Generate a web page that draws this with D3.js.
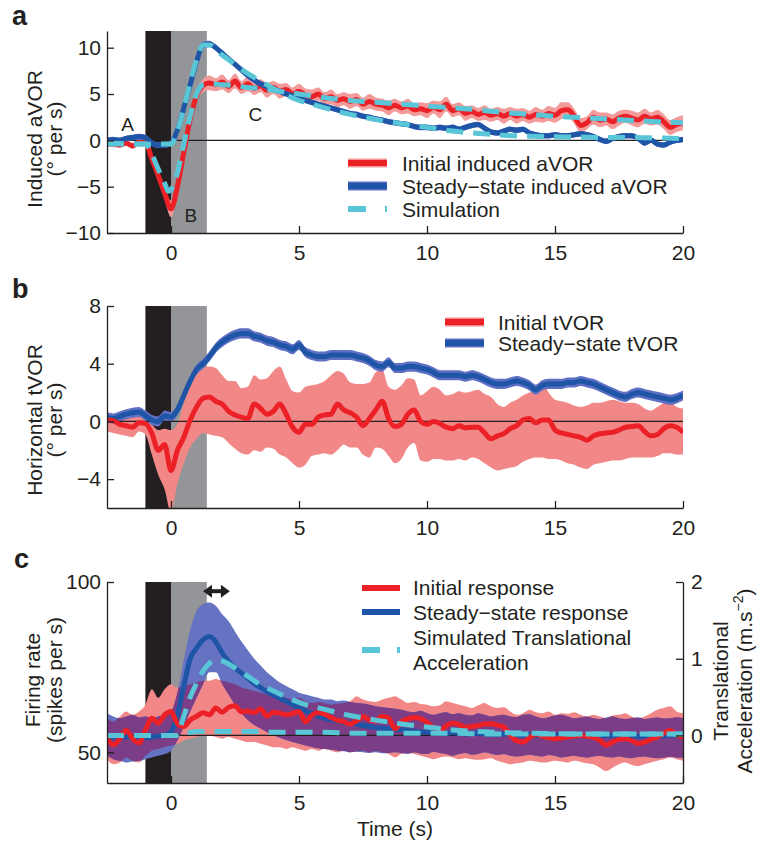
<!DOCTYPE html>
<html><head><meta charset="utf-8">
<script src="https://cdn.jsdelivr.net/npm/d3@7"></script>
<style>body{margin:0;background:#fff}svg{display:block}</style>
</head><body><svg id="chart" width="757" height="846"></svg>
<script>
// ---------------- DATA ----------------
const xDomain = [-2.5, 20];
const xTicks = [0, 5, 10, 15, 20];
const sampleStart = -2.5, sampleStep = 0.25, sampleCount = 91;   // recording grid (s)
const stimBlack = [-1, 0];
const stimGray = [0, 1.4];

// Panel a : induced aVOR (deg/s)
const aTicks = [-10, -5, 0, 5, 10];
const redA = [-0.4,-0.4,-0.5,-0.3,-0.6,-0.2,-0.2,-2.0,-3.8,-5.7,
  -7.4,-5.0,-1.3,2.3,4.8,5.9,6.2,6.0,6.3,5.8,
  6.4,5.7,6.1,5.6,5.9,5.4,5.7,5.3,5.5,5.0,
  5.3,4.9,4.7,5.0,4.5,4.7,4.3,4.5,4.2,4.4,
  3.9,4.2,3.9,3.8,3.5,3.8,3.5,3.7,3.3,3.4,
  3.2,3.6,3.3,3.9,3.2,3.4,2.9,3.1,2.8,3.0,
  2.7,2.9,2.6,2.9,2.6,2.8,2.5,2.8,2.6,2.9,
  2.7,3.2,3.3,2.6,1.6,1.9,2.5,2.2,2.3,2.0,
  2.4,2.6,2.4,2.2,2.6,2.3,2.5,2.0,1.4,1.7,
  1.9];
const semRedA = [0.3,0.3,0.3,0.3,0.3,0.3,0.3,0.5,0.6,0.7,
  0.9,0.8,0.7,0.6,0.6,0.7,0.8,0.7,0.8,0.7,
  0.8,0.7,0.8,0.7,0.7,0.8,0.7,0.8,0.7,0.7,
  0.8,0.7,0.8,0.7,0.7,0.8,0.7,0.7,0.8,0.7,
  0.7,0.8,0.7,0.7,0.8,0.7,0.7,0.8,0.7,0.7,
  0.8,0.7,0.9,0.8,0.7,0.7,0.8,0.7,0.7,0.8,
  0.7,0.7,0.8,0.7,0.8,0.7,0.7,0.8,0.7,0.8,
  0.8,0.9,0.8,0.8,0.8,0.7,0.8,0.8,0.7,0.8,
  0.8,0.7,0.8,0.8,0.8,0.7,0.8,0.8,0.8,0.8,
  0.8];
const blueA = [0.0,0.1,0.0,0.2,0.3,0.4,0.3,-0.3,-0.5,-0.5,
  -0.3,1.1,3.5,6.0,8.5,10.3,10.4,10.0,9.4,8.8,
  8.2,7.6,7.0,6.5,6.1,5.8,5.5,5.3,5.0,4.8,
  4.6,4.3,4.1,3.9,3.7,3.5,3.3,3.1,2.9,2.8,
  2.6,2.5,2.3,2.2,2.0,1.9,1.8,1.7,1.5,1.4,
  1.4,1.3,1.4,1.3,1.4,1.2,1.4,1.6,1.7,1.3,
  0.9,0.8,1.0,1.2,1.1,1.2,0.8,0.6,0.5,0.5,
  0.6,0.5,0.5,0.6,0.7,0.6,0.4,0.1,-0.1,0.2,
  0.4,0.5,0.5,0.2,-0.3,0.0,-0.4,-0.5,-0.2,0.0,
  0.1];
const semBlueA = [0.3,0.3,0.3,0.3,0.3,0.3,0.3,0.3,0.3,0.3,
  0.3,0.3,0.3,0.3,0.35,0.35,0.35,0.3,0.3,0.3,
  0.3,0.3,0.3,0.3,0.3,0.3,0.3,0.3,0.3,0.3,
  0.3,0.3,0.3,0.3,0.3,0.3,0.3,0.3,0.3,0.3,
  0.3,0.3,0.3,0.3,0.3,0.3,0.3,0.3,0.3,0.3,
  0.3,0.3,0.3,0.3,0.3,0.3,0.3,0.3,0.3,0.3,
  0.3,0.3,0.3,0.3,0.3,0.3,0.3,0.3,0.3,0.3,
  0.3,0.3,0.3,0.3,0.3,0.3,0.3,0.3,0.3,0.3,
  0.3,0.3,0.3,0.3,0.3,0.3,0.3,0.3,0.3,0.3,
  0.3];
const simATime = [-2.5,-1,-0.75,-0.5,-0.25,-0.1,0,0.25,0.5,0.75,1,1.25,1.5,2,2.5,3,3.5,4,4.5,5,5.5,6,7,8,9,10,11,12,13,14,15,16,17,18,19,20];
const simAInitial = [-0.4,-0.4,-1.5,-3.1,-4.6,-5.5,-5.3,-3.5,-0.4,2.6,5.0,6.0,6.1,6.0,5.9,5.7,5.6,5.4,5.2,5.0,4.8,4.6,4.3,4.1,3.9,3.7,3.5,3.3,3.0,2.8,2.6,2.45,2.3,2.15,2.0,1.9];
const simASteady = [-0.3,-0.4,-0.4,-0.4,-0.4,-0.4,-0.4,1.0,3.5,6.2,8.7,10.3,10.3,9.2,8.2,7.2,6.4,5.6,4.9,4.3,3.9,3.5,2.8,2.25,1.8,1.4,1.0,0.75,0.55,0.45,0.4,0.35,0.3,0.3,0.25,0.2];
const labelsA = [{text:"A", t:-1.7, v:1.0}, {text:"B", t:0.78, v:-8.85}, {text:"C", t:3.3, v:2.1}];

// Panel b : horizontal tVOR (deg/s)
const bTicks = [-4, 0, 4, 8];
const redB = [0.1,0.05,-0.2,-0.3,-0.4,-0.1,-0.15,-0.8,-2.0,-1.6,
  -3.4,-2.0,-1.1,0.1,1.0,1.6,1.7,1.4,1.2,0.7,
  0.45,0.3,0.2,1.2,0.9,0.5,0.7,1.2,0.5,-0.4,
  -0.75,-0.2,-0.2,0.3,0.45,0.5,1.2,0.8,0.6,0.3,
  -0.3,0.2,0.8,1.4,0.2,-0.35,-0.2,0.5,0.8,0.0,
  -0.2,0.0,-0.15,-0.4,-0.5,-0.3,-0.45,-0.4,-0.4,-0.8,
  -1.2,-1.0,-0.85,-0.5,-0.3,0.1,0.2,-0.1,0.1,0.1,
  -0.6,-0.8,-0.9,-1.0,-1.1,-1.3,-1.0,-0.85,-0.8,-0.75,
  -0.6,-0.4,-0.35,-0.3,-0.7,-1.0,-0.9,-0.5,-0.3,-0.4,
  -0.75];
const redBHigh = [0.6,0.5,0.4,0.3,0.3,0.6,0.4,-0.2,-0.6,-0.5,
  -0.6,-0.2,1.3,2.5,3.3,3.7,3.8,3.7,3.2,2.8,
  2.8,2.3,2.4,3.2,2.9,3.0,3.5,3.8,2.9,2.1,
  2.0,2.4,2.5,2.6,2.8,3.2,3.5,3.3,2.7,2.6,
  2.6,2.7,3.4,3.6,2.4,2.2,2.5,3.0,2.9,1.8,
  2.1,2.4,2.2,1.8,1.9,2.1,2.0,2.1,2.2,1.9,
  1.7,1.2,1.0,1.3,1.5,1.8,2.0,2.3,2.75,2.0,
  1.5,1.4,1.3,1.1,1.0,1.1,1.3,1.3,1.4,1.5,
  1.4,1.3,1.3,1.2,0.9,0.75,1.0,1.3,1.4,1.0,
  0.9];
const redBLow = [-0.7,-0.8,-0.9,-1.0,-1.1,-0.7,-0.9,-2.3,-3.7,-4.7,
  -6.3,-4.3,-2.9,-1.8,-1.2,-0.8,-0.9,-1.0,-1.1,-1.5,
  -1.9,-2.2,-2.3,-2.0,-2.1,-1.8,-1.9,-2.3,-2.5,-2.9,
  -3.2,-3.0,-2.4,-2.3,-2.2,-2.3,-2.0,-1.6,-1.8,-1.8,
  -2.3,-2.5,-1.8,-1.9,-2.4,-2.9,-2.6,-1.8,-1.5,-2.7,
  -2.8,-2.6,-2.6,-2.7,-2.7,-2.6,-2.7,-2.5,-2.6,-2.9,
  -3.2,-3.4,-3.3,-3.2,-3.1,-2.8,-2.6,-2.5,-2.5,-2.6,
  -2.6,-2.7,-2.9,-3.0,-3.2,-3.3,-3.0,-2.9,-2.8,-2.7,
  -2.7,-2.6,-2.5,-2.5,-2.5,-2.5,-2.4,-2.2,-2.2,-2.3,
  -2.3];
const blueB = [0.3,0.2,0.35,0.5,0.6,0.65,0.4,0.1,0.0,0.4,
  0.3,0.8,1.8,2.8,3.6,4.0,4.5,5.1,5.5,5.8,
  6.0,6.1,6.1,5.9,5.8,5.6,5.5,5.3,5.2,5.0,
  5.3,4.8,4.6,4.5,4.5,4.6,4.6,4.6,4.6,4.5,
  4.4,4.2,3.9,3.8,4.1,3.7,3.7,3.8,3.8,3.7,
  3.6,3.4,3.2,3.2,3.2,3.2,3.1,3.2,3.1,2.9,
  2.7,2.6,2.6,2.7,2.8,2.7,2.5,2.2,2.5,2.6,
  2.6,2.6,2.7,2.7,2.8,2.7,2.6,2.4,2.2,2.0,
  1.8,1.7,1.9,2.0,1.9,1.8,1.7,1.6,1.5,1.6,
  1.8];
const semBlueB = [0.35,0.35,0.35,0.35,0.35,0.35,0.35,0.35,0.35,0.35,
  0.35,0.35,0.35,0.35,0.35,0.35,0.35,0.35,0.35,0.35,
  0.35,0.35,0.35,0.35,0.35,0.35,0.35,0.35,0.35,0.35,
  0.35,0.35,0.35,0.35,0.35,0.35,0.35,0.35,0.35,0.35,
  0.35,0.35,0.35,0.35,0.35,0.35,0.35,0.35,0.35,0.35,
  0.35,0.35,0.35,0.35,0.35,0.35,0.35,0.35,0.35,0.35,
  0.35,0.35,0.35,0.35,0.35,0.35,0.35,0.35,0.35,0.35,
  0.35,0.35,0.35,0.35,0.35,0.35,0.35,0.35,0.35,0.35,
  0.35,0.35,0.35,0.35,0.35,0.35,0.35,0.35,0.35,0.35,
  0.35];

// Panel c : firing rate (spikes/s) and simulated translational acceleration (m/s^2)
const cTicks = [50, 100];
const cTicksRight = [0, 1, 2];
const redC = [54.2,52.2,54.0,56.5,54.0,52.8,56.5,60.0,58.6,61.0,
  62.0,58.5,57.6,59.5,60.6,61.6,61.0,63.0,61.8,63.2,
  63.7,61.9,62.1,61.7,62.8,60.6,61.8,61.5,61.0,61.4,
  62.0,59.0,60.9,61.6,61.2,60.2,59.4,59.0,58.3,59.2,
  60.5,59.5,59.2,60.6,60.1,56.9,59.0,59.8,60.2,59.9,
  58.8,57.2,56.3,57.8,58.6,58.1,57.4,57.6,57.9,58.3,
  58.4,58.0,57.4,55.0,53.4,53.0,54.3,55.4,54.8,54.3,
  54.0,54.2,54.5,54.8,55.0,54.7,54.4,53.5,52.1,53.0,
  53.8,54.0,53.4,52.6,53.0,53.8,54.5,55.6,56.4,55.2,
  54.4];
const redCHigh = [60.0,59.0,60.5,62.0,61.0,62.0,64.0,68.5,66.0,68.5,
  70.0,69.0,69.5,70.0,70.5,71.0,71.0,71.5,71.0,70.5,
  70.0,69.0,68.5,68.0,67.5,67.0,66.5,66.0,66.0,65.5,
  66.0,65.0,64.5,64.8,64.5,64.0,64.3,64.5,65.0,66.5,
  65.5,65.0,64.8,65.5,66.0,66.5,65.5,64.5,64.8,64.2,
  64.0,63.5,63.8,65.0,64.5,64.0,63.5,63.0,63.8,64.5,
  63.5,63.0,63.2,62.0,61.0,61.5,62.5,61.8,61.5,62.0,
  61.0,61.5,61.3,61.8,61.0,60.5,61.0,60.5,60.0,60.8,
  61.0,61.5,60.5,60.0,60.5,61.5,62.5,63.0,63.5,62.0,
  61.5];
const redCLow = [48.0,46.5,47.0,48.5,47.5,47.0,49.0,50.5,51.0,51.5,
  52.0,52.5,53.5,54.0,54.5,55.0,55.0,54.5,54.0,54.5,
  54.0,53.5,53.0,53.0,52.5,52.0,51.5,51.5,51.0,51.5,
  51.0,50.5,51.0,50.5,51.0,50.5,50.0,50.5,50.0,50.3,
  50.5,50.0,50.5,50.0,49.5,48.5,49.5,49.8,49.5,49.0,
  48.5,48.0,48.5,48.8,48.5,48.0,48.3,48.0,47.8,48.0,
  48.3,47.5,47.0,46.5,46.8,47.0,47.5,47.3,47.0,47.2,
  47.5,47.3,47.0,47.5,47.2,46.8,46.5,45.5,44.5,45.5,
  46.5,47.0,46.3,46.0,46.5,47.0,47.5,48.0,48.5,48.0,
  47.5];
const blueC = [55.0,54.5,54.3,54.6,54.4,54.0,54.3,54.5,54.8,55.0,
  56.0,61.0,69.5,77.5,80.6,83.0,84.0,82.4,79.2,76.6,
  74.8,73.3,71.8,70.2,69.0,67.8,66.8,65.9,65.0,64.0,
  63.1,62.2,61.4,60.6,60.0,59.6,59.2,58.9,58.6,58.3,
  57.9,57.6,57.3,57.1,57.0,56.8,56.6,56.4,56.2,56.0,
  55.9,55.8,55.7,55.6,55.8,55.6,55.4,55.5,55.6,55.4,
  55.3,55.2,55.4,55.3,55.1,55.0,55.2,55.1,55.0,54.9,
  55.0,55.1,54.9,54.8,55.0,54.9,54.7,54.8,55.0,54.9,
  54.8,55.0,54.9,54.7,54.8,55.0,54.9,54.8,55.0,55.1,
  54.9];
const blueCHigh = [61.5,60.5,60.0,60.5,61.0,60.2,60.5,60.0,60.5,61.0,
  62.0,67.5,77.0,86.0,91.5,93.5,94.0,93.0,90.5,88.5,
  85.5,82.5,80.0,77.5,75.5,73.5,72.0,70.5,69.5,68.5,
  67.5,67.0,66.5,66.0,65.5,65.5,65.0,65.2,64.8,64.5,
  64.3,64.0,63.5,63.2,63.0,62.8,62.5,62.0,61.8,62.2,
  61.5,61.0,61.5,61.8,61.2,61.5,61.0,60.8,61.5,61.0,
  60.5,60.8,61.0,60.5,60.3,61.0,61.2,60.5,60.0,60.3,
  60.8,61.0,60.5,60.0,60.2,60.5,60.0,59.8,60.2,60.5,
  60.0,59.8,60.0,60.3,59.8,60.0,60.2,59.9,60.0,60.3,
  60.0];
const blueCLow = [49.0,48.0,47.5,47.0,47.3,47.5,48.0,48.5,49.0,49.5,
  50.5,53.5,57.5,62.0,66.0,70.0,73.5,73.5,70.0,67.0,
  64.0,61.5,59.5,58.0,57.0,56.0,55.0,54.3,53.6,53.0,
  52.5,52.0,51.6,51.2,51.0,50.8,50.5,50.3,50.0,50.2,
  50.0,49.8,50.0,49.7,49.8,50.0,49.8,49.5,50.0,49.6,
  49.5,50.2,49.8,49.5,49.0,49.5,49.8,49.3,49.5,50.0,
  49.6,49.2,49.5,49.0,48.8,49.0,49.3,49.0,48.8,49.2,
  49.0,48.5,48.8,49.0,48.7,48.5,48.8,49.0,48.6,48.5,
  48.8,48.5,48.3,48.6,48.8,48.5,48.3,48.5,48.7,48.5,
  48.4];
const simCTime = [-2.5,0.2,0.5,0.75,1,1.25,1.5,1.75,2,2.5,3,3.5,4,4.5,5,6,7,8,9,10,11,12,14,16,18,20];
const simCSteady = [0,0,0.25,0.5,0.68,0.84,0.94,0.98,0.97,0.88,0.77,0.66,0.58,0.5,0.43,0.34,0.26,0.2,0.15,0.11,0.07,0.05,0.03,0.02,0.02,0.02];
const simCInitial = [0,0,0.03,0.04,0.05,0.05,0.05,0.05,0.05,0.05,0.05,0.05,0.04,0.04,0.04,0.04,0.03,0.03,0.03,0.03,0.03,0.02,0.02,0.02,0.02,0.02];
const arrowT = [1.25, 2.3];
const arrowV = 97.3;

// ---------------- DRAWING ----------------
const FONT = '"Liberation Sans", Arial, Helvetica, sans-serif';
const INK = "#231f20";
const COL = {red:"#ec2027", blue:"#1e55a6", cyan:"#58c6d6", pinkA:"#f39a9a", pink:"#f28787",
  blueBand:"#5f70c4", peri:"#6673c2", purple:"#7b3d85", black:"#231f20", gray:"#949598"};
const DASH = "17,10";
const LW = 5;

const times = d3.range(sampleCount).map(i => sampleStart + i * sampleStep);
const svg = d3.select("#chart").style("font-family", FONT);
const defs = svg.append("defs");

const xS = d3.scaleLinear().domain(xDomain).range([107, 683]);
const yA = d3.scaleLinear().domain([-10, 11.8]).range([233, 31]);
const yB = d3.scaleLinear().domain([-6, 8]).range([508, 306]);
const yC = d3.scaleLinear().domain([41, 100]).range([783, 582]);
const yC2 = d3.scaleLinear().domain([-0.62, 2]).range([783, 582]);

const pts = (ts, vs) => ts.map((t, i) => ({t, v: vs[i]}));
const bandHL = (ts, lo, hi) => ts.map((t, i) => ({t, lo: lo[i], hi: hi[i]}));
const bandSem = (ts, m, s) => ts.map((t, i) => ({t, lo: m[i] - s[i], hi: m[i] + s[i]}));
const lineGen = y => d3.line().x(d => xS(d.t)).y(d => y(d.v)).curve(d3.curveMonotoneX);
const areaGen = y => d3.area().x(d => xS(d.t)).y0(d => y(d.lo)).y1(d => y(d.hi)).curve(d3.curveMonotoneX);
const fmt = d => d < 0 ? "\u2212" + Math.abs(d) : String(d);

function makeClip(id, y) {
  const [b, t] = y.range();
  defs.append("clipPath").attr("id", id).append("rect")
    .attr("x", xS.range()[0]).attr("y", t).attr("width", xS.range()[1] - xS.range()[0]).attr("height", b - t);
}
function stim(g, y) {
  const [b, t] = y.range();
  g.append("rect").attr("x", xS(stimBlack[0])).attr("width", xS(stimBlack[1]) - xS(stimBlack[0]))
    .attr("y", t).attr("height", b - t).attr("fill", COL.black);
  g.append("rect").attr("x", xS(stimGray[0])).attr("width", xS(stimGray[1]) - xS(stimGray[0]))
    .attr("y", t).attr("height", b - t).attr("fill", COL.gray);
}
function zeroLine(g, y, v) {
  g.append("line").attr("x1", xS.range()[0]).attr("x2", xS.range()[1])
    .attr("y1", y(v)).attr("y2", y(v)).attr("stroke", INK).attr("stroke-width", 1.2);
}
function styleAxis(a) {
  a.attr("font-family", null).attr("font-size", null);
  a.selectAll("path,line").attr("stroke", INK).attr("stroke-width", 1.3);
  a.selectAll("text").attr("fill", INK).style("font-size", "21px").style("font-family", FONT);
}
function axes(y, ticks) {
  const [b] = y.range();
  const ax = svg.append("g").attr("transform", `translate(0,${b})`)
    .call(d3.axisBottom(xS).tickValues(xTicks).tickFormat(fmt).tickSizeInner(-7).tickSizeOuter(0).tickPadding(12));
  styleAxis(ax);
  const ay = svg.append("g").attr("transform", `translate(${xS.range()[0]},0)`)
    .call(d3.axisLeft(y).tickValues(ticks).tickFormat(fmt).tickSizeInner(-7).tickSizeOuter(0).tickPadding(6));
  styleAxis(ay);
}
function yLabel(lines, cy) {
  lines.forEach(([txt, x]) => {
    svg.append("text").attr("transform", `translate(${x},${cy}) rotate(-90)`)
      .attr("text-anchor", "middle").attr("fill", INK).style("font-size", "21px").text(txt);
  });
}
function legend(items, x0, x1, xt) {
  items.forEach(it => {
    if (it.fringe) svg.append("line").attr("x1", x0).attr("x2", x1).attr("y1", it.y).attr("y2", it.y)
      .attr("stroke", it.fringe).attr("stroke-width", 9);
    if (it.color) svg.append("line").attr("x1", x0).attr("x2", x1).attr("y1", it.y).attr("y2", it.y)
      .attr("stroke", it.color).attr("stroke-width", 6).attr("stroke-dasharray", it.dash || null);
    (it.texts || []).forEach(([s, yb]) => svg.append("text").attr("x", xt).attr("y", yb)
      .attr("fill", INK).style("font-size", "21px").text(s));
  });
}
function panelLetter(s, x, y) {
  svg.append("text").attr("x", x).attr("y", y).attr("fill", INK)
    .style("font-size", "27px").style("font-weight", "bold").text(s);
}
function meanLine(p, data, y, color) {
  p.append("path").datum(data).attr("d", lineGen(y)).attr("fill", "none")
    .attr("stroke", color).attr("stroke-width", LW).attr("stroke-linejoin", "round");
}

// ---------- Panel a ----------
makeClip("clipA", yA);
{
  const g = svg.append("g");
  stim(g, yA);
  const p = g.append("g").attr("clip-path", "url(#clipA)");
  p.append("path").datum(bandSem(times, redA, semRedA)).attr("d", areaGen(yA)).attr("fill", COL.pinkA);
  zeroLine(p, yA, 0);
  meanLine(p, pts(times, redA), yA, COL.red);
  p.append("path").datum(bandSem(times, blueA, semBlueA)).attr("d", areaGen(yA)).attr("fill", COL.blueBand);
  meanLine(p, pts(times, blueA), yA, COL.blue);
  [simAInitial, simASteady].forEach(s => p.append("path").datum(pts(simATime, s)).attr("d", lineGen(yA))
    .attr("fill", "none").attr("stroke", COL.cyan).attr("stroke-width", 5).attr("stroke-dasharray", DASH));
  labelsA.forEach(l => g.append("text").attr("x", xS(l.t)).attr("y", yA(l.v)).attr("text-anchor", "middle")
    .attr("fill", INK).style("font-size", "19px").text(l.text));
}
axes(yA, aTicks);
yLabel([["Induced aVOR", 42], ["(\u00b0 per s)", 62]], 139);
legend([
  {y: 163, color: COL.red, fringe: COL.pinkA, texts: [["Initial induced aVOR", 171]]},
  {y: 186, color: COL.blue, fringe: COL.blueBand, texts: [["Steady\u2212state induced aVOR", 194]]},
  {y: 209, color: COL.cyan, dash: "18,19", texts: [["Simulation", 217]]}
], 348, 387, 402);
panelLetter("a", 12, 25);

// ---------- Panel b ----------
makeClip("clipB", yB);
{
  const g = svg.append("g");
  stim(g, yB);
  const p = g.append("g").attr("clip-path", "url(#clipB)");
  p.append("path").datum(bandHL(times, redBLow, redBHigh)).attr("d", areaGen(yB)).attr("fill", COL.pink);
  p.append("path").datum(bandSem(times, blueB, semBlueB)).attr("d", areaGen(yB)).attr("fill", COL.blueBand);
  zeroLine(p, yB, 0);
  meanLine(p, pts(times, blueB), yB, COL.blue);
  meanLine(p, pts(times, redB), yB, COL.red);
}
axes(yB, bTicks);
yLabel([["Horizontal tVOR", 42], ["(\u00b0 per s)", 62]], 420);
legend([
  {y: 322, color: COL.red, fringe: COL.pink, texts: [["Initial tVOR", 330]]},
  {y: 343, color: COL.blue, fringe: COL.blueBand, texts: [["Steady\u2212state tVOR", 351]]}
], 445, 484, 498);
panelLetter("b", 12, 298);

// ---------- Panel c ----------
makeClip("clipC", yC);
{
  const g = svg.append("g");
  stim(g, yC);
  const p = g.append("g").attr("clip-path", "url(#clipC)");
  const redBandC = bandHL(times, redCLow, redCHigh);
  const blueBandC = bandHL(times, blueCLow, blueCHigh);
  defs.append("clipPath").attr("id", "clipRedC").append("path").attr("d", areaGen(yC)(redBandC));
  p.append("path").datum(redBandC).attr("d", areaGen(yC)).attr("fill", COL.pink);
  p.append("path").datum(blueBandC).attr("d", areaGen(yC)).attr("fill", COL.peri);
  p.append("path").datum(blueBandC).attr("d", areaGen(yC)).attr("fill", COL.purple).attr("clip-path", "url(#clipRedC)");
  zeroLine(p, yC2, 0);
  meanLine(p, pts(times, blueC), yC, COL.blue);
  meanLine(p, pts(times, redC), yC, COL.red);
  [simCSteady, simCInitial].forEach(s => p.append("path").datum(pts(simCTime, s)).attr("d", lineGen(yC2))
    .attr("fill", "none").attr("stroke", COL.cyan).attr("stroke-width", 5).attr("stroke-dasharray", DASH));
  // double-headed arrow
  const ax0 = xS(arrowT[0]), ax1 = xS(arrowT[1]), ay = yC(arrowV);
  g.append("line").attr("x1", ax0 + 6).attr("x2", ax1 - 6).attr("y1", ay).attr("y2", ay)
    .attr("stroke", INK).attr("stroke-width", 4);
  g.append("path").attr("d", `M${ax0},${ay}L${ax0 + 9},${ay - 6.5}L${ax0 + 9},${ay + 6.5}Z`).attr("fill", INK);
  g.append("path").attr("d", `M${ax1},${ay}L${ax1 - 9},${ay - 6.5}L${ax1 - 9},${ay + 6.5}Z`).attr("fill", INK);
}
axes(yC, cTicks);
{
  const ar = svg.append("g").attr("transform", `translate(${xS.range()[1]},0)`)
    .call(d3.axisRight(yC2).tickValues(cTicksRight).tickFormat(fmt).tickSizeInner(-7).tickSizeOuter(0).tickPadding(8));
  styleAxis(ar);
}
yLabel([["Firing rate", 40], ["(spikes per s)", 62]], 680);
svg.append("text").attr("transform", "translate(728,681) rotate(-90)").attr("text-anchor", "middle")
  .attr("fill", INK).style("font-size", "21px").text("Translational");
{
  const t = svg.append("text").attr("transform", "translate(752,681) rotate(-90)").attr("text-anchor", "middle")
    .attr("fill", INK).style("font-size", "21px");
  t.append("tspan").text("Acceleration (m.s");
  t.append("tspan").attr("dy", -9).style("font-size", "14px").text("\u22122");
  t.append("tspan").attr("dy", 9).text(")");
}
legend([
  {y: 588, color: COL.red, texts: [["Initial response", 595]]},
  {y: 612, color: COL.blue, texts: [["Steady\u2212state response", 620]]},
  {y: 650, color: COL.cyan, dash: "18,17", texts: [["Simulated Translational", 645], ["Acceleration", 670]]}
], 362, 400, 413);
panelLetter("c", 14, 568);
svg.append("text").attr("x", 395).attr("y", 836).attr("text-anchor", "middle").attr("fill", INK)
  .style("font-size", "21px").text("Time (s)");
</script></body></html>
